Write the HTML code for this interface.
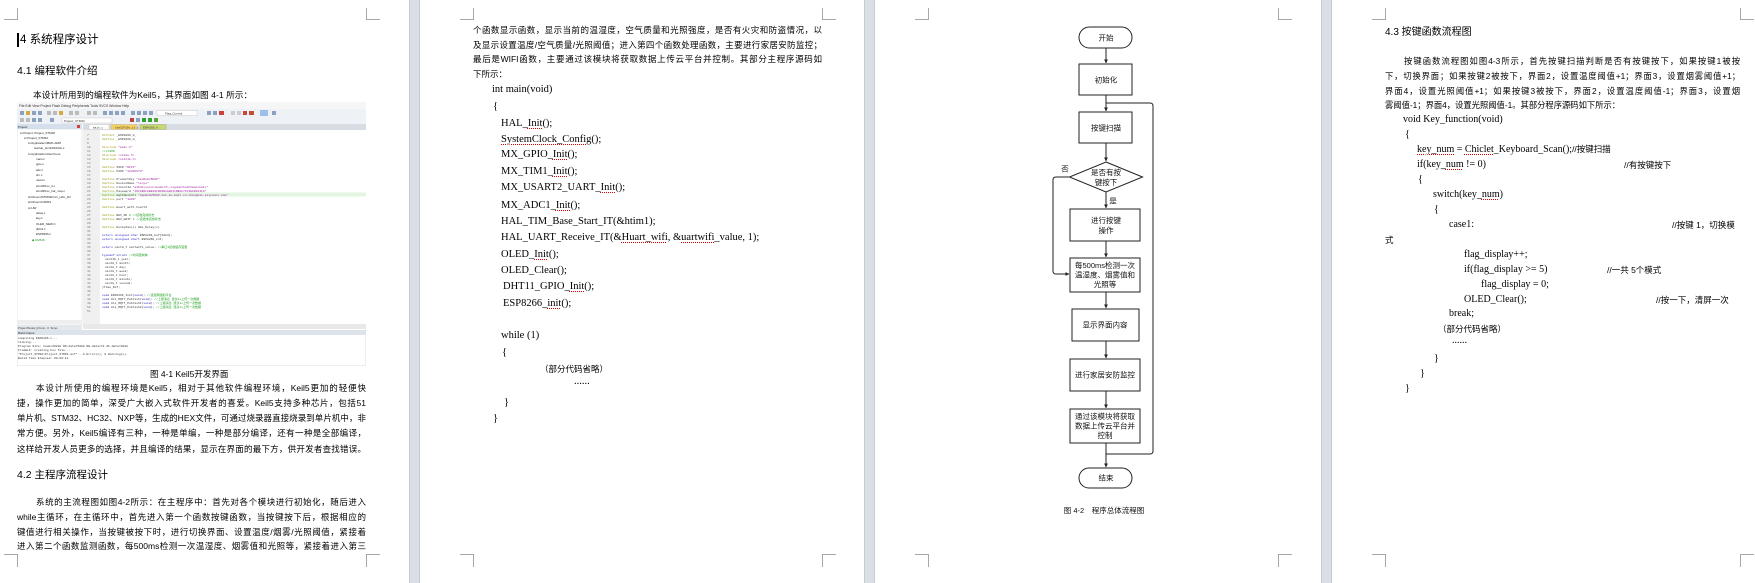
<!DOCTYPE html>
<html><head><meta charset="utf-8">
<style>
html,body{margin:0;padding:0;}
body{width:1755px;height:583px;position:relative;overflow:hidden;background:#fff;font-family:"Liberation Sans","Noto Sans CJK SC",sans-serif;color:#000;}
.strip{position:absolute;top:0;height:583px;width:11px;background:#d9dfe5;border-left:1px solid #c6ccd2;border-right:1px solid #c6ccd2;box-sizing:border-box;}
.mk{position:absolute;background:#a8a8a8;}
.t{position:absolute;white-space:nowrap;font-family:"Liberation Sans","Noto Sans CJK SC",sans-serif;}
.p{position:absolute;white-space:nowrap;font-size:8.5px;line-height:14px;height:14px;text-align:justify;text-align-last:justify;overflow:hidden;}
.h1{font-size:11.5px;line-height:16px;}
.h2{font-size:10.5px;line-height:16px;}
.c{position:absolute;white-space:nowrap;font-family:"Liberation Serif","Noto Serif CJK SC",serif;font-size:10.5px;line-height:14px;}
.u{text-decoration:underline dotted #d00;text-decoration-thickness:1px;text-underline-offset:2px;}
.cm{font-family:"Liberation Sans","Noto Sans CJK SC",sans-serif;font-size:8.5px;}
</style></head><body>

<div class="strip" style="left:409px"></div>
<div class="strip" style="left:864px"></div>
<div class="strip" style="left:1321px"></div>

<div class="mk" style="left:17px;top:8px;width:1px;height:11px"></div><div class="mk" style="left:4px;top:19px;width:14px;height:1px"></div>
<div class="mk" style="left:366px;top:8px;width:1px;height:11px"></div><div class="mk" style="left:366px;top:19px;width:14px;height:1px"></div>
<div class="mk" style="left:4px;top:554px;width:14px;height:1px"></div><div class="mk" style="left:17px;top:554px;width:1px;height:13px"></div>
<div class="mk" style="left:366px;top:554px;width:14px;height:1px"></div><div class="mk" style="left:366px;top:554px;width:1px;height:13px"></div>

<div class="mk" style="left:473px;top:8px;width:1px;height:11px"></div><div class="mk" style="left:460px;top:19px;width:14px;height:1px"></div>
<div class="mk" style="left:822px;top:8px;width:1px;height:11px"></div><div class="mk" style="left:822px;top:19px;width:14px;height:1px"></div>
<div class="mk" style="left:460px;top:554px;width:14px;height:1px"></div><div class="mk" style="left:473px;top:554px;width:1px;height:13px"></div>
<div class="mk" style="left:822px;top:554px;width:14px;height:1px"></div><div class="mk" style="left:822px;top:554px;width:1px;height:13px"></div>

<div class="mk" style="left:928px;top:8px;width:1px;height:11px"></div><div class="mk" style="left:915px;top:19px;width:14px;height:1px"></div>
<div class="mk" style="left:1278px;top:8px;width:1px;height:11px"></div><div class="mk" style="left:1278px;top:19px;width:14px;height:1px"></div>
<div class="mk" style="left:915px;top:554px;width:14px;height:1px"></div><div class="mk" style="left:928px;top:554px;width:1px;height:13px"></div>
<div class="mk" style="left:1278px;top:554px;width:14px;height:1px"></div><div class="mk" style="left:1278px;top:554px;width:1px;height:13px"></div>

<div class="mk" style="left:1385px;top:8px;width:1px;height:11px"></div><div class="mk" style="left:1372px;top:19px;width:14px;height:1px"></div>
<div class="mk" style="left:1740px;top:8px;width:1px;height:11px"></div><div class="mk" style="left:1740px;top:19px;width:14px;height:1px"></div>
<div class="mk" style="left:1372px;top:554px;width:14px;height:1px"></div><div class="mk" style="left:1385px;top:554px;width:1px;height:13px"></div>
<div class="mk" style="left:1740px;top:554px;width:14px;height:1px"></div><div class="mk" style="left:1740px;top:554px;width:1px;height:13px"></div>

<!-- PAGE 1 -->
<div style="position:absolute;left:17px;top:33px;width:2px;height:14px;background:#000"></div>
<div class="t h1" style="left:20px;top:32px">4 系统程序设计</div>
<div class="t h2" style="left:17px;top:63px">4.1 编程软件介绍</div>
<div class="t" style="left:33px;top:88px;font-size:8.7px;line-height:14px">本设计所用到的编程软件为Keil5，其界面如图 4-1 所示：</div>

<svg style="position:absolute;left:17px;top:102px" width="349" height="264" viewBox="0 0 349 264" font-family="Liberation Mono, monospace">
<rect x="0" y="0" width="349" height="264" fill="#fff" stroke="#c8c8c8" stroke-width="0.6"/>
<rect x="0" y="0" width="349" height="7" fill="#f6f6f6"/>
<text x="2" y="5" font-size="3.4" fill="#333" font-family="Liberation Sans">File  Edit  View  Project  Flash  Debug  Peripherals  Tools  SVCS  Window  Help</text>
<rect x="0" y="7" width="349" height="8" fill="#eef1f5"/>
<rect x="0" y="15" width="349" height="7" fill="#eef1f5"/>
<g fill="#8aa2c0">
<rect x="3" y="9" width="4" height="4"/><rect x="9" y="9" width="4" height="4" fill="#d8a840"/><rect x="15" y="9" width="4" height="4"/><rect x="21" y="9" width="4" height="4"/><rect x="30" y="9" width="4" height="4" fill="#bbb"/><rect x="36" y="9" width="4" height="4" fill="#bbb"/><rect x="42" y="9" width="4" height="4" fill="#d8a840"/><rect x="52" y="9" width="4" height="4" fill="#bbb"/><rect x="58" y="9" width="4" height="4" fill="#bbb"/><rect x="70" y="9" width="4" height="4" fill="#bbb"/><rect x="76" y="9" width="4" height="4" fill="#bbb"/><rect x="86" y="9" width="4" height="4"/><rect x="92" y="9" width="4" height="4"/><rect x="98" y="9" width="4" height="4"/><rect x="104" y="9" width="4" height="4"/><rect x="114" y="9" width="4" height="4"/><rect x="120" y="9" width="4" height="4"/><rect x="126" y="9" width="4" height="4"/><rect x="132" y="9" width="4" height="4"/>
<rect x="190" y="9" width="4" height="4"/><rect x="196" y="9" width="4" height="4"/><rect x="202" y="9" width="5" height="4" fill="#d04040"/><rect x="214" y="9" width="4" height="4" fill="#ccc"/><rect x="220" y="9" width="4" height="4" fill="#ccc"/><rect x="226" y="9" width="4" height="4" fill="#d04040"/><rect x="232" y="9" width="5" height="4" fill="#c05030"/><rect x="243" y="8" width="8" height="6" fill="#9cc0e8"/><rect x="255" y="9" width="4" height="4"/>
<rect x="3" y="16" width="4" height="4" fill="#bbb"/><rect x="9" y="16" width="4" height="4" fill="#bbb"/><rect x="15" y="16" width="4" height="4"/><rect x="21" y="16" width="4" height="4"/><rect x="33" y="16" width="4" height="4"/><rect x="113" y="16" width="4" height="4" fill="#c04040"/><rect x="119" y="16" width="4" height="4"/><rect x="125" y="16" width="4" height="4" fill="#30a030"/><rect x="131" y="16" width="4" height="4" fill="#30a030"/><rect x="137" y="16" width="4" height="4" fill="#60a030"/>
</g>
<rect x="140" y="8.5" width="40" height="5" fill="#fff" stroke="#aaa" stroke-width="0.3"/>
<text x="148" y="12.5" font-size="3" fill="#333" font-family="Liberation Sans">Flag_Control</text>
<rect x="45" y="16" width="50" height="5" fill="#fff" stroke="#aaa" stroke-width="0.3"/>
<text x="47" y="20" font-size="3" fill="#333" font-family="Liberation Sans">Project_STM32</text>
<rect x="0" y="22" width="65" height="5" fill="#d6e0ec"/>
<text x="1" y="26" font-size="3" fill="#222" font-family="Liberation Sans">Project</text>
<rect x="60" y="23" width="3" height="3" fill="#d04040"/>
<rect x="66" y="22" width="283" height="6" fill="#d8dde4"/>
<rect x="72" y="22.5" width="20" height="5" fill="#fff" stroke="#aaa" stroke-width="0.3"/>
<rect x="94" y="22.5" width="26" height="5" fill="#f5d060" stroke="#aaa" stroke-width="0.3"/>
<rect x="123" y="22.5" width="26" height="5" fill="#c8d870" stroke="#888" stroke-width="0.3"/>
<text x="76" y="26.5" font-size="2.8" fill="#333">main.c</text>
<text x="98" y="26.5" font-size="2.8" fill="#333">stm32f10x_it.c</text>
<text x="126" y="26.5" font-size="2.8" fill="#333">ESP8266.h</text>
<rect x="0" y="27" width="65" height="196" fill="#fff" stroke="#ccc" stroke-width="0.4"/>
<g font-size="3" fill="#222" font-family="Liberation Sans">
<text x="3" y="32">⊟ Project: Project_STM32</text>
<text x="7" y="37">⊟ Project_STM32</text>
<text x="11" y="42">⊟ Application/MDK-ARM</text>
<text x="17" y="47">startup_stm32f103xb.s</text>
<text x="11" y="53">⊟ Application/User/Core</text>
<text x="19" y="58">main.c</text><text x="19" y="63">gpio.c</text><text x="19" y="69">adc.c</text><text x="19" y="74">tim.c</text><text x="19" y="79">usart.c</text><text x="19" y="85">stm32f1xx_it.c</text><text x="19" y="90">stm32f1xx_hal_msp.c</text>
<text x="11" y="96">⊞ Drivers/STM32F1xx_HAL_Dri</text>
<text x="11" y="101">⊞ Drivers/CMSIS</text>
<text x="11" y="107">⊟ HW</text>
<text x="19" y="112">delay.c</text><text x="19" y="117">key.c</text><text x="19" y="123">OLED_NEW.C</text><text x="19" y="128">dht11.c</text><text x="19" y="133">ESP8266.c</text>
<text x="15" y="139" fill="#1a8a1a">◆ CMSIS</text>
</g>
<rect x="0" y="218" width="65" height="4" fill="#eee"/>
<rect x="0" y="223" width="65" height="5" fill="#e4e8ee"/>
<text x="1" y="227" font-size="2.8" fill="#333" font-family="Liberation Sans">Project  Books  {} Func..  0. Temp..</text>
<rect x="66" y="28" width="17" height="195" fill="#f0f0f0"/>
<rect x="83" y="28" width="266" height="195" fill="#fff"/>
<rect x="83" y="90.5" width="266" height="4" fill="#e2f6e2"/>
<rect x="66" y="222" width="283" height="5" fill="#e8e8e8"/>
<g font-size="3" fill="#777">
<text x="70" y="34">7</text><text x="70" y="38">8</text><text x="70" y="42">9</text><text x="70" y="46">10</text><text x="70" y="50">11</text><text x="70" y="54">12</text><text x="70" y="58">13</text><text x="70" y="62">14</text><text x="70" y="66">15</text><text x="70" y="70">16</text><text x="70" y="74">17</text><text x="70" y="78">18</text><text x="70" y="82">19</text><text x="70" y="86">20</text><text x="70" y="90">21</text><text x="70" y="94">22</text><text x="70" y="98">23</text><text x="70" y="102">24</text><text x="70" y="106">25</text><text x="70" y="110">26</text><text x="70" y="114">27</text><text x="70" y="118">28</text><text x="70" y="122">29</text><text x="70" y="126">30</text><text x="70" y="130">31</text><text x="70" y="134">32</text><text x="70" y="138">33</text><text x="70" y="142">34</text><text x="70" y="146">35</text><text x="70" y="150">36</text><text x="70" y="154">37</text><text x="70" y="158">38</text><text x="70" y="162">39</text><text x="70" y="166">40</text><text x="70" y="170">41</text><text x="70" y="174">42</text><text x="70" y="178">43</text><text x="70" y="182">44</text><text x="70" y="186">45</text><text x="70" y="190">46</text><text x="70" y="194">47</text><text x="70" y="198">48</text><text x="70" y="202">49</text><text x="70" y="206">50</text><text x="70" y="210">51</text>
</g>
<g font-size="3" fill="#333">
<text x="85" y="34"><tspan fill="#a0a020">#ifndef</tspan> _ESP8266_H_</text>
<text x="85" y="38"><tspan fill="#a0a020">#define</tspan> _ESP8266_H_</text>
<text x="85" y="46"><tspan fill="#a0a020">#include</tspan> <tspan fill="#a020a0">"main.h"</tspan></text>
<text x="85" y="50" fill="#20a020">//cJSON</text>
<text x="85" y="54"><tspan fill="#a0a020">#include</tspan> <tspan fill="#a020a0">&lt;stdio.h&gt;</tspan></text>
<text x="85" y="58"><tspan fill="#a0a020">#include</tspan> <tspan fill="#a020a0">&lt;stdlib.h&gt;</tspan></text>
<text x="85" y="66"><tspan fill="#a0a020">#define</tspan> SSID    <tspan fill="#a020a0">"WIFI"</tspan></text>
<text x="85" y="70"><tspan fill="#a0a020">#define</tspan> PASS    <tspan fill="#a020a0">"12345678"</tspan></text>
<text x="85" y="78"><tspan fill="#a0a020">#define</tspan> ProductKey     <tspan fill="#a020a0">"a1pWs0v5K0Z"</tspan></text>
<text x="85" y="82"><tspan fill="#a0a020">#define</tspan> DeviceName     <tspan fill="#a020a0">"linyu"</tspan></text>
<text x="85" y="86"><tspan fill="#a0a020">#define</tspan> ClientId       <tspan fill="#a020a0">"a1SnG|securemode=3\,signmethod=hmacsha1|"</tspan></text>
<text x="85" y="90"><tspan fill="#a0a020">#define</tspan> Password       <tspan fill="#a020a0">"1DC1B0F8EB30F9D3B1A9031DB1F71F3E0D843F8"</tspan></text>
<text x="85" y="94"><tspan fill="#a0a020">#define</tspan> mqttHostUrl    <tspan fill="#a020a0">"a1pWs0v5K0Z.iot-as-mqtt.cn-shanghai.aliyuncs.com"</tspan></text>
<text x="85" y="98"><tspan fill="#a0a020">#define</tspan> port           <tspan fill="#a020a0">"1883"</tspan></text>
<text x="85" y="106"><tspan fill="#a0a020">#define</tspan> Huart_wifi   huart2</text>
<text x="85" y="114"><tspan fill="#a0a020">#define</tspan> REV_OK    <tspan fill="#20a020">0 //接收完成标志</tspan></text>
<text x="85" y="118"><tspan fill="#a0a020">#define</tspan> REV_WAIT  <tspan fill="#20a020">1 //接收未完成标志</tspan></text>
<text x="85" y="126"><tspan fill="#a0a020">#define</tspan> DelayXms(x) HAL_Delay(x)</text>
<text x="85" y="134"><tspan fill="#2020c0">extern unsigned char</tspan> ESP8266_buf[1024];</text>
<text x="85" y="138"><tspan fill="#2020c0">extern unsigned short</tspan> ESP8266_cnt;</text>
<text x="85" y="146"><tspan fill="#2020c0">extern</tspan> uint8_t uartwifi_value;        <tspan fill="#20a020">//串口2接收缓存变量</tspan></text>
<text x="85" y="154"><tspan fill="#2020c0">typedef struct</tspan>      <tspan fill="#20a020">//时间结构体</tspan></text>
<text x="88" y="158">uint16_t year;</text><text x="88" y="162">uint8_t month;</text><text x="88" y="166">uint8_t day;</text><text x="88" y="170">uint8_t week;</text><text x="88" y="174">uint8_t hour;</text><text x="88" y="178">uint8_t minute;</text><text x="88" y="182">uint8_t second;</text>
<text x="85" y="186">}Time_Def;</text>
<text x="85" y="194"><tspan fill="#2020c0">void</tspan> ESP8266_Init(<tspan fill="#2020c0">void</tspan>);          <tspan fill="#20a020">//连接网络和平台</tspan></text>
<text x="85" y="198"><tspan fill="#2020c0">void</tspan> Ali_MQTT_Publish(<tspan fill="#2020c0">void</tspan>);      <tspan fill="#20a020">//上报消息 建议1s上传一次数据</tspan></text>
<text x="85" y="202"><tspan fill="#2020c0">void</tspan> Ali_MQTT_Publish1(<tspan fill="#2020c0">void</tspan>);     <tspan fill="#20a020">//上报消息 建议1s上传一次数据</tspan></text>
<text x="85" y="206"><tspan fill="#2020c0">void</tspan> Ali_MQTT_Publish2(<tspan fill="#2020c0">void</tspan>);     <tspan fill="#20a020">//上报消息 建议1s上传一次数据</tspan></text>
</g>
<rect x="0" y="228" width="349" height="5" fill="#dde3ea"/>
<text x="1" y="232" font-size="3" fill="#222" font-family="Liberation Sans">Build Output</text>
<g font-size="3" fill="#333">
<text x="1" y="237">compiling ESP8266.c...</text>
<text x="1" y="241">linking...</text>
<text x="1" y="245">Program Size: Code=20228 RO-data=5008 RW-data=72 ZI-data=3888</text>
<text x="1" y="249">FromELF: creating hex file...</text>
<text x="1" y="253">"Project_STM32\Project_STM32.axf" - 0 Error(s), 0 Warning(s).</text>
<text x="1" y="257">Build Time Elapsed:  00:00:11</text>
</g>
</svg>

<div class="t" style="left:150px;top:367px;font-size:8.5px;line-height:14px">图 4-1 Keil5开发界面</div>
<div class="p" style="left:36px;top:381px;width:330px">本设计所使用的编程环境是Keil5，相对于其他软件编程环境，Keil5更加的轻便快</div>
<div class="p" style="left:17px;top:396px;width:349px">捷，操作更加的简单，深受广大嵌入式软件开发者的喜爱。Keil5支持多种芯片，包括51</div>
<div class="p" style="left:17px;top:411px;width:349px">单片机、STM32、HC32、NXP等，生成的HEX文件，可通过烧录器直接烧录到单片机中，非</div>
<div class="p" style="left:17px;top:426px;width:349px">常方便。另外，Keil5编译有三种，一种是单编，一种是部分编译，还有一种是全部编译，</div>
<div class="p" style="left:17px;top:442px;width:349px">这样给开发人员更多的选择，并且编译的结果，显示在界面的最下方，供开发者查找错误。</div>
<div class="t h2" style="left:17px;top:467px">4.2 主程序流程设计</div>
<div class="p" style="left:36px;top:495px;width:330px">系统的主流程图如图4-2所示：在主程序中：首先对各个模块进行初始化，随后进入</div>
<div class="p" style="left:17px;top:510px;width:349px">while主循环，在主循环中，首先进入第一个函数按键函数，当按键按下后，根据相应的</div>
<div class="p" style="left:17px;top:525px;width:349px">键值进行相关操作，当按键被按下时，进行切换界面、设置温度/烟雾/光照阈值，紧接着</div>
<div class="p" style="left:17px;top:539px;width:349px">进入第二个函数监测函数，每500ms检测一次温湿度、烟雾值和光照等，紧接着进入第三</div>

<!-- PAGE 2 -->
<div class="p" style="left:473px;top:23px;width:349px">个函数显示函数，显示当前的温湿度，空气质量和光照强度，是否有火灾和防盗情况，以</div>
<div class="p" style="left:473px;top:38px;width:349px">及显示设置温度/空气质量/光照阈值；进入第四个函数处理函数，主要进行家居安防监控；</div>
<div class="p" style="left:473px;top:52px;width:349px">最后是WIFI函数，主要通过该模块将获取数据上传云平台并控制。其部分主程序源码如</div>
<div class="t" style="left:473px;top:67px;font-size:8.5px;line-height:14px">下所示：</div>
<div class="c" style="left:492px;top:83px">int main(void)</div>
<div class="c" style="left:493px;top:100px">{</div>
<div class="c" style="left:501px;top:117px">HAL_<span class="u">Init</span>();</div>
<div class="c" style="left:501px;top:133px"><span class="u">SystemClock_Config</span>();</div>
<div class="c" style="left:501px;top:148px">MX_GPIO_<span class="u">Init</span>();</div>
<div class="c" style="left:501px;top:165px">MX_TIM1_<span class="u">Init</span>();</div>
<div class="c" style="left:501px;top:181px">MX_USART2_UART_<span class="u">Init</span>();</div>
<div class="c" style="left:501px;top:199px">MX_ADC1_<span class="u">Init</span>();</div>
<div class="c" style="left:501px;top:215px">HAL_TIM_Base_Start_IT(&amp;htim1);</div>
<div class="c" style="left:501px;top:231px">HAL_UART_Receive_IT(&amp;<span class="u">Huart_wifi</span>, &amp;<span class="u">uartwifi</span>_value, 1);</div>
<div class="c" style="left:501px;top:248px">OLED_<span class="u">Init</span>();</div>
<div class="c" style="left:501px;top:264px">OLED_Clear();</div>
<div class="c" style="left:503px;top:280px">DHT11_GPIO_<span class="u">Init</span>();</div>
<div class="c" style="left:503px;top:297px">ESP8266_<span class="u">init</span>();</div>
<div class="c" style="left:501px;top:329px">while (1)</div>
<div class="c" style="left:502px;top:346px">{</div>
<div class="t" style="left:540px;top:362px;font-size:8.5px;line-height:14px">（部分代码省略）</div>
<div class="c" style="left:574px;top:375px">......</div>
<div class="c" style="left:504px;top:396px">}</div>
<div class="c" style="left:493px;top:412px">}</div>

<!-- PAGE 3 flowchart -->
<svg style="position:absolute;left:1040px;top:20px" width="130" height="500" viewBox="1040 20 130 500" font-family="Liberation Sans, Noto Sans CJK SC, sans-serif">
<defs><marker id="a" viewBox="0 0 6 6" refX="5.5" refY="3" markerWidth="4" markerHeight="4" orient="auto"><path d="M0,0 L6,3 L0,6 z" fill="#222"/></marker></defs>
<g stroke="#222" stroke-width="1" fill="none">
<rect x="1079" y="27" width="53" height="21" rx="10.5" fill="#fff"/>
<rect x="1079" y="468" width="53" height="20" rx="10" fill="#fff"/>
<g fill="#fff">
<rect x="1079" y="64" width="53" height="31"/>
<rect x="1079" y="112" width="53" height="31"/>
<rect x="1070" y="209" width="70" height="32"/>
<rect x="1070" y="258" width="70" height="34"/>
<rect x="1072" y="309" width="67" height="32"/>
<rect x="1070" y="359" width="70" height="32"/>
<rect x="1070" y="409" width="70" height="34"/>
</g>
<polygon points="1106,162 1142.5,177 1106,192 1069.5,177" fill="#fff"/>
<line x1="1106" y1="48" x2="1106" y2="63" marker-end="url(#a)"/>
<line x1="1106" y1="95" x2="1106" y2="111" marker-end="url(#a)"/>
<line x1="1106" y1="143" x2="1106" y2="161" marker-end="url(#a)"/>
<line x1="1106" y1="192" x2="1106" y2="208" marker-end="url(#a)"/>
<line x1="1106" y1="241" x2="1106" y2="257" marker-end="url(#a)"/>
<line x1="1106" y1="292" x2="1106" y2="308" marker-end="url(#a)"/>
<line x1="1106" y1="341" x2="1106" y2="358" marker-end="url(#a)"/>
<line x1="1106" y1="391" x2="1106" y2="408" marker-end="url(#a)"/>
<line x1="1106" y1="443" x2="1106" y2="467" marker-end="url(#a)"/>
<path d="M1106,454 L1150,454 Q1153,454 1153,451 L1153,106 Q1153,103 1150,103 L1106,103"/>
<path d="M1069.5,177 L1056,177 Q1053,177 1053,180 L1053,271 Q1053,274 1056,274 L1069,274" marker-end="url(#a)"/>
</g>
<g font-size="7.5" fill="#111" text-anchor="middle">
<text x="1106" y="40.5">开始</text>
<text x="1106" y="82.5">初始化</text>
<text x="1106" y="130.5">按键扫描</text>
<text x="1106" y="175">是否有按</text>
<text x="1106" y="185">键按下</text>
<text x="1113" y="203.5">是</text>
<text x="1065" y="171.5">否</text>
<text x="1106" y="223">进行按键</text>
<text x="1106" y="233">操作</text>
<text x="1105" y="268">每500ms检测一次</text>
<text x="1105" y="277.5">温湿度、烟雾值和</text>
<text x="1105" y="287">光照等</text>
<text x="1105" y="327.5">显示界面内容</text>
<text x="1105" y="377.5">进行家居安防监控</text>
<text x="1105" y="419">通过该模块将获取</text>
<text x="1105" y="428.5">数据上传云平台并</text>
<text x="1105" y="438">控制</text>
<text x="1106" y="480.5">结束</text>
<text x="1104" y="513">图 4-2　程序总体流程图</text>
</g>
</svg>

<!-- PAGE 4 -->
<div class="t" style="left:1385px;top:25px;font-size:10px;line-height:16px">4.3 按键函数流程图</div>
<div class="p" style="left:1404px;top:54px;width:336px;font-size:8.3px">按键函数流程图如图4-3所示，首先按键扫描判断是否有按键按下，如果按键1被按</div>
<div class="p" style="left:1385px;top:69px;width:355px;font-size:8.3px">下，切换界面；如果按键2被按下，界面2，设置温度阈值+1；界面3，设置烟雾阈值+1；</div>
<div class="p" style="left:1385px;top:84px;width:355px;font-size:8.3px">界面4，设置光照阈值+1；如果按键3被按下，界面2，设置温度阈值-1；界面3，设置烟</div>
<div class="t" style="left:1385px;top:98px;font-size:8.3px;line-height:14px">雾阈值-1；界面4，设置光照阈值-1。其部分程序源码如下所示：</div>
<div class="c" style="left:1403px;top:113px;font-size:10px">void Key_function(void)</div>
<div class="c" style="left:1405px;top:128px;font-size:10px">{</div>
<div class="c" style="left:1417px;top:142px;font-size:10px"><span class="u">key_num</span> = <span class="u">Chiclet</span>_Keyboard_Scan();<span class="cm">//按键扫描</span></div>
<div class="c" style="left:1417px;top:158px;font-size:10px">if(key_<span class="u">num</span> != 0)</div>
<div class="t cm" style="left:1624px;top:158px;line-height:14px">//有按键按下</div>
<div class="c" style="left:1418px;top:173px;font-size:10px">{</div>
<div class="c" style="left:1433px;top:188px;font-size:10px">switch(key_<span class="u">num</span>)</div>
<div class="c" style="left:1434px;top:203px;font-size:10px">{</div>
<div class="c" style="left:1449px;top:218px;font-size:10px">case1:</div>
<div class="t cm" style="left:1672px;top:218px;line-height:14px">//按键 1，切换模</div>
<div class="t cm" style="left:1385px;top:233px;line-height:14px">式</div>
<div class="c" style="left:1464px;top:248px;font-size:10px">flag_display++;</div>
<div class="c" style="left:1464px;top:263px;font-size:10px">if(flag_display &gt;= 5)</div>
<div class="t cm" style="left:1607px;top:263px;line-height:14px">//一共 5个模式</div>
<div class="c" style="left:1481px;top:278px;font-size:10px">flag_display = 0;</div>
<div class="c" style="left:1464px;top:293px;font-size:10px">OLED_Clear();</div>
<div class="t cm" style="left:1656px;top:293px;line-height:14px">//按一下，清屏一次</div>
<div class="c" style="left:1449px;top:307px;font-size:10px">break;</div>
<div class="t cm" style="left:1438px;top:322px;line-height:14px">（部分代码省略）</div>
<div class="c" style="left:1452px;top:334px;font-size:10px">......</div>
<div class="c" style="left:1434px;top:352px;font-size:10px">}</div>
<div class="c" style="left:1420px;top:367px;font-size:10px">}</div>
<div class="c" style="left:1405px;top:382px;font-size:10px">}</div>

</body></html>
